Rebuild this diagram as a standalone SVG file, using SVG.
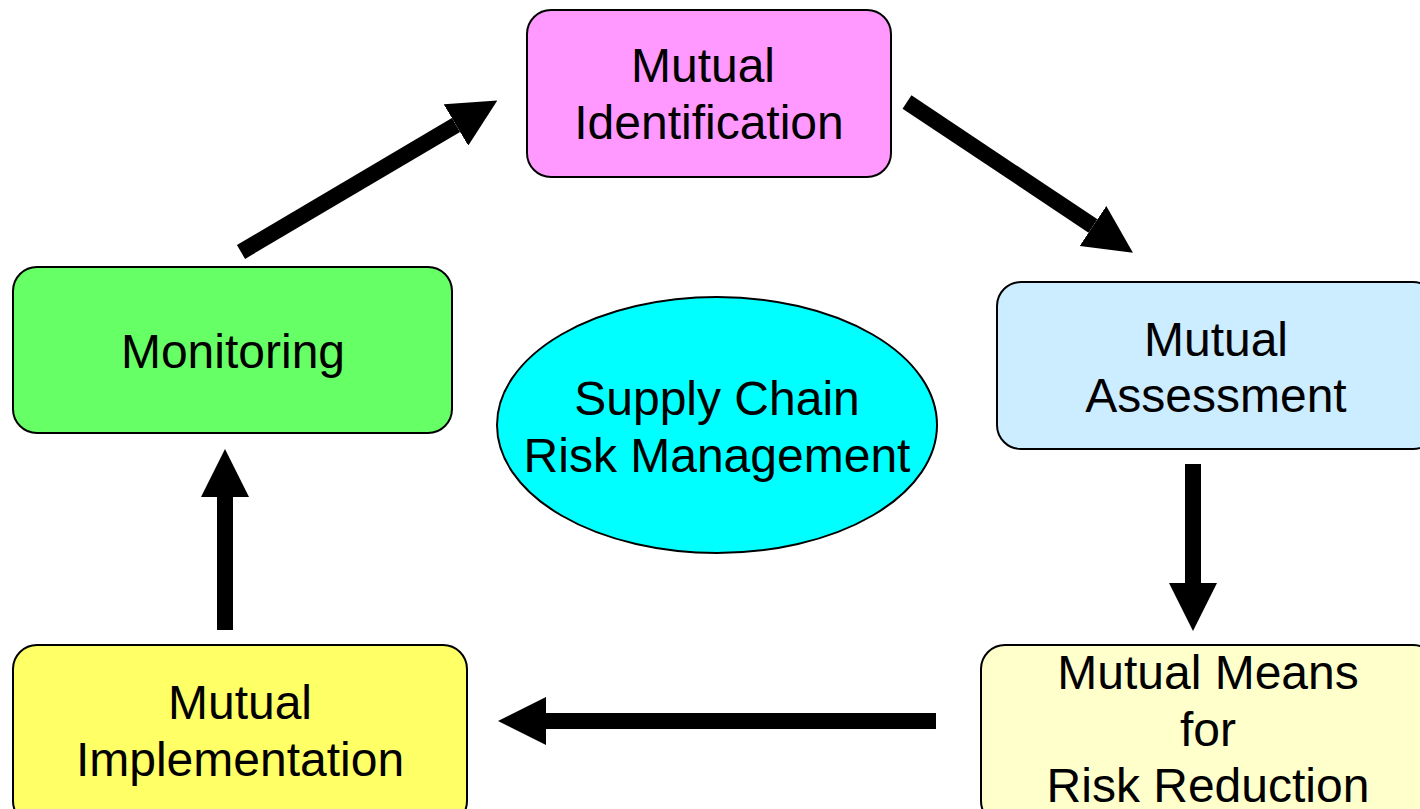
<svg xmlns="http://www.w3.org/2000/svg" width="1420" height="809" viewBox="0 0 1420 809">
  <style>
    .box { stroke: #000; stroke-width: 2; }
    .lbl { font-family: "Liberation Sans", Arial, sans-serif; font-size: 48px; fill: #000; text-anchor: middle; }
    .shaft { stroke: #000; stroke-width: 16; fill: none; marker-end: url(#head); }
  </style>
  <defs>
    <marker id="head" markerUnits="userSpaceOnUse" markerWidth="48" markerHeight="48" viewBox="0 0 48 48" refX="0" refY="24" orient="auto">
      <path d="M0,0 L48,24 L0,48 Z" fill="#000"/>
    </marker>
  </defs>
  <rect width="1420" height="809" fill="#fff"/>

  <g id="connectors">
    <!-- Monitoring -> Mutual Identification -->
    <line class="shaft" x1="241" y1="252" x2="456" y2="125"/>
    <!-- Mutual Identification -> Mutual Assessment -->
    <line class="shaft" x1="907" y1="102" x2="1093" y2="226"/>
    <!-- Mutual Assessment -> Mutual Means -->
    <line class="shaft" x1="1193" y1="464" x2="1193" y2="583"/>
    <!-- Mutual Means -> Mutual Implementation -->
    <line class="shaft" x1="936" y1="721" x2="546" y2="721"/>
    <!-- Mutual Implementation -> Monitoring -->
    <line class="shaft" x1="225" y1="630" x2="225" y2="497"/>
  </g>

  <g id="identification">
    <rect class="box" x="527" y="10" width="364" height="167" rx="24" fill="#FF99FF"/>
    <text class="lbl" x="703" y="82">Mutual</text>
    <text class="lbl" x="709" y="139">Identification</text>
  </g>

  <g id="assessment">
    <rect class="box" x="997" y="282" width="440" height="167" rx="24" fill="#CCECFF"/>
    <text class="lbl" x="1216" y="356">Mutual</text>
    <text class="lbl" x="1216" y="412">Assessment</text>
  </g>

  <g id="means">
    <rect class="box" x="981" y="645" width="456" height="180" rx="24" fill="#FFFFCC"/>
    <text class="lbl" x="1208" y="689">Mutual Means</text>
    <text class="lbl" x="1208" y="746">for</text>
    <text class="lbl" x="1208" y="802">Risk Reduction</text>
  </g>

  <g id="implementation">
    <rect class="box" x="13" y="645" width="454" height="180" rx="24" fill="#FFFF66"/>
    <text class="lbl" x="240" y="719">Mutual</text>
    <text class="lbl" x="240" y="776">Implementation</text>
  </g>

  <g id="monitoring">
    <rect class="box" x="13" y="267" width="439" height="166" rx="24" fill="#66FF66"/>
    <text class="lbl" x="233" y="368">Monitoring</text>
  </g>

  <g id="scrm">
    <ellipse class="box" cx="717" cy="425" rx="220" ry="128" fill="#00FFFF"/>
    <text class="lbl" x="717" y="415">Supply Chain</text>
    <text class="lbl" x="717" y="472">Risk Management</text>
  </g>
</svg>
